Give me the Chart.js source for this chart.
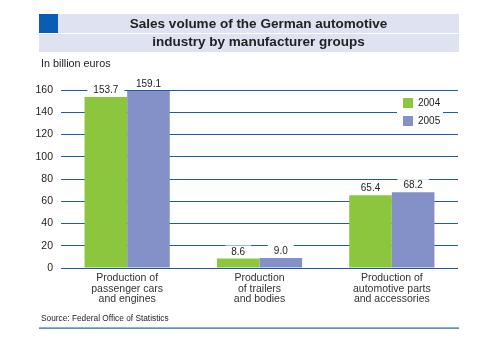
<!DOCTYPE html>
<html><head><meta charset="utf-8">
<script src="https://cdn.jsdelivr.net/npm/chart.js@4"></script>
<style>html,body{margin:0;padding:0;background:#fff}#c{display:block}</style></head>
<body><div style="width:502px;height:353px;position:relative"><canvas id="c" width="502" height="353"></canvas></div>
<script>
const categories = [["Production of","passenger cars","and engines"],["Production","of trailers","and bodies"],["Production of","automotive parts","and accessories"]];
const seriesNames = ["2004","2005"];
const series2004 = [153.7, 8.6, 65.4];
const series2005 = [159.1, 9.0, 68.2];
const yMin = 0, yMax = 160, yStep = 20;
const titleLines = ["Sales volume of the German automotive","industry by manufacturer groups"];
const unitLabel = "In billion euros";
const sourceText = "Source: Federal Office of Statistics";

const FAM = '"Liberation Sans", Arial, Helvetica, sans-serif';
const colors = ["#8cc63f","#8491c9"];
const gridBlue = "#1f5aa8";

const deco = {
  id: 'deco',
  beforeDraw(chart){
    const ctx = chart.ctx;
    ctx.save();
    ctx.fillStyle = "#fff"; ctx.fillRect(0,0,chart.width,chart.height);
    // title bands
    ctx.fillStyle = "#dfe3f1";
    ctx.fillRect(58,14,401,19);
    ctx.fillRect(39,34,420,18);
    ctx.fillStyle = "#0b5cb5";
    ctx.fillRect(39,14,19,19);
    ctx.fillStyle = "#222";
    ctx.font = "bold 13.5px " + FAM;
    ctx.textAlign = "center"; ctx.textBaseline = "middle";
    ctx.fillText(titleLines[0], 258.5, 24.5);
    ctx.fillText(titleLines[1], 258.5, 42.5);
    ctx.textAlign = "left";
    ctx.font = "10.8px " + FAM;
    ctx.fillText(unitLabel, 41, 64);
    ctx.font = "8.3px " + FAM;
    ctx.fillText(sourceText, 41, 319);
    ctx.fillStyle = "#1f5fb0";
    ctx.fillRect(39,327.5,420,1.2);
    ctx.restore();
  },
  afterDatasetsDraw(chart){
    const ctx = chart.ctx;
    ctx.save();
    ctx.font = "10px " + FAM;
    ctx.textAlign = "center"; ctx.textBaseline = "middle";
    chart.data.datasets.forEach((ds,i)=>{
      chart.getDatasetMeta(i).data.forEach((bar,j)=>{
        const t = ds.data[j].toFixed(1);
        const w = ctx.measureText(t).width + 12;
        const cy = bar.y - 7;
        ctx.fillStyle = "#fff";
        ctx.fillRect(bar.x - w/2, cy - 6, w, 12);
        ctx.fillStyle = "#222";
        ctx.fillText(t, bar.x, cy + 0.5);
      });
    });
    // legend
    ctx.fillStyle = "#fff";
    ctx.fillRect(397,95,46,34);
    ctx.textAlign = "left";
    chart.data.datasets.forEach((ds,i)=>{
      const cy = 103 + i*18;
      ctx.fillStyle = ds.backgroundColor;
      ctx.fillRect(403, cy-5, 10, 10);
      ctx.fillStyle = "#222";
      ctx.fillText(ds.label, 418, cy + 0.5);
    });
    ctx.restore();
  }
};

new Chart(document.getElementById('c'), {
  type: 'bar',
  data: {
    labels: categories,
    datasets: [
      {label: seriesNames[0], data: series2004, backgroundColor: colors[0], borderWidth: 0, categoryPercentage: 0.644, barPercentage: 1.0},
      {label: seriesNames[1], data: series2005, backgroundColor: colors[1], borderWidth: 0, categoryPercentage: 0.644, barPercentage: 1.0}
    ]
  },
  options: {
    responsive: false,
    devicePixelRatio: 1,
    animation: false,
    layout: {padding: {top: 90, right: 44, left: 0, bottom: 0}},
    plugins: {legend: {display: false}, title: {display: false}, tooltip: {enabled: false}},
    scales: {
      x: {
        grid: {display: false, drawTicks: false},
        border: {display: false},
        ticks: {color: "#333", font: {family: FAM, size: 10.5, lineHeight: 1.0}, padding: 5, maxRotation: 0, autoSkip: false},
        afterFit(s){ s.height = 85; }
      },
      y: {
        min: yMin, max: yMax,
        grid: {color: gridBlue, lineWidth: 1, drawTicks: false},
        border: {display: false},
        ticks: {stepSize: yStep, color: "#222", font: {family: FAM, size: 10.5}, padding: 8},
        afterFit(s){ s.width = 61; }
      }
    }
  },
  plugins: [deco]
});
</script>
</body></html>
